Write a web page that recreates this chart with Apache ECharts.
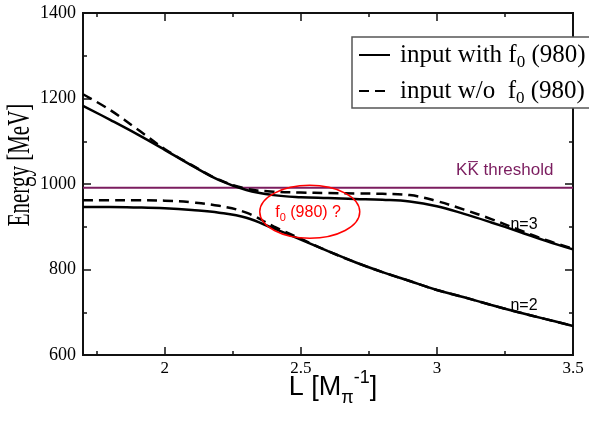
<!DOCTYPE html>
<html>
<head>
<meta charset="utf-8">
<script src="https://cdn.jsdelivr.net/npm/echarts@6/dist/echarts.min.js"></script>
<style>
  html, body { margin: 0; padding: 0; background: #fff; }
  #chart { width: 589px; height: 425px; }
</style>
</head>
<body>
<div id="chart"></div>
<script>
// box size L in units of 1/M_pi
const L = [1.7, 1.8, 1.9, 2.0, 2.1, 2.2, 2.3, 2.4, 2.5, 2.6, 2.7, 2.8, 2.9, 3.0, 3.1, 3.2, 3.3, 3.4, 3.5];

// energy levels [MeV], input with f0(980)
const n3With = [1183, 1150, 1116, 1080, 1043, 1009, 986, 974, 969, 967, 965, 963, 959, 948, 930, 910, 889, 867, 847];
const n2With = [946, 946, 945, 943, 939, 933, 921, 896, 870, 843, 817, 794, 773, 752, 735, 717, 700, 684, 668];

// energy levels [MeV], input without f0(980)
const n3Without = [1210, 1173, 1128, 1082, 1044, 1010, 989, 982, 980, 979, 978, 977, 974, 960, 940, 918, 893, 869, 849];
const n2Without = [962, 962, 962, 961, 957, 949, 933, 901, 872, 843, 817, 794, 773, 752, 735, 717, 700, 684, 668];

// KKbar threshold
const kkThreshold = 991;
const xLimits = [1.7, 3.5];

const xMajor = [2, 2.5, 3, 3.5];
const xMinor = [1.75, 2.25, 2.75, 3.25];

const NAME_WITH = 'input with f0 (980)';
const NAME_WITHOUT = 'input w/o  f0 (980)';

function pairs(xs, ys) {
  return xs.map((x, i) => [x, ys[i]]);
}

const axisLine = { show: true, lineStyle: { color: '#111', width: 2 } };

function xAxisOf(position, ticks, len, withLabel) {
  return {
    type: 'value',
    position: position,
    min: xLimits[0],
    max: xLimits[1],
    axisLine: axisLine,
    axisTick: { show: true, inside: true, length: len, customValues: ticks, lineStyle: { color: '#111', width: 1.5 } },
    axisLabel: withLabel
      ? { show: true, customValues: ticks, color: '#000', fontFamily: 'Liberation Serif', fontSize: 17, margin: 5 }
      : { show: false },
    splitLine: { show: false }
  };
}

function yAxisOf(position, withLabel) {
  return {
    type: 'value',
    position: position,
    min: 600,
    max: 1400,
    interval: 200,
    axisLine: axisLine,
    axisTick: { show: true, inside: true, length: 8, lineStyle: { color: '#111', width: 1.5 } },
    minorTick: { show: true, splitNumber: 2, length: 4, lineStyle: { color: '#111', width: 1.5 } },
    axisLabel: withLabel
      ? { show: true, color: '#000', fontFamily: 'Liberation Serif', fontSize: 18, margin: 7, formatter: v => String(v) }
      : { show: false },
    splitLine: { show: false }
  };
}

const xAxes = [
  xAxisOf('bottom', xMajor, 8, true),
  xAxisOf('bottom', xMinor, 4, false),
  xAxisOf('top', xMajor, 8, false),
  xAxisOf('top', xMinor, 4, false)
];
xAxes[0].name = 'L [M{sub|π}{sup|-1}]';
xAxes[0].nameLocation = 'middle';
xAxes[0].nameGap = 14;
xAxes[0].nameMoveOverlap = false;
xAxes[0].nameTextStyle = {
  color: '#000',
  fontFamily: 'Liberation Sans',
  fontSize: 27,
  lineHeight: 38,
  padding: [0, 0, 0, 10],
  rich: {
    sub: { fontFamily: 'Liberation Sans', fontSize: 18, color: '#000', verticalAlign: 'bottom' },
    sup: { fontFamily: 'Liberation Sans', fontSize: 18, color: '#000', verticalAlign: 'top' }
  }
};

const yAxes = [yAxisOf('left', true), yAxisOf('right', false)];

function curve(name, ys, dashed) {
  return {
    name: name,
    type: 'line',
    data: pairs(L, ys),
    smooth: 0.4,
    symbol: 'none',
    showSymbol: false,
    silent: true,
    z: 3,
    itemStyle: { color: '#000' },
    lineStyle: { color: '#000', width: 2.5, type: dashed ? [10, 6] : 'solid' }
  };
}

const chart = echarts.init(document.getElementById('chart'), null, { renderer: 'canvas' });

chart.setOption({
  backgroundColor: '#fff',
  animation: false,
  grid: { left: 83, right: 16, top: 13, bottom: 70, containLabel: false, outerBoundsMode: 'none' },
  xAxis: xAxes,
  yAxis: yAxes,
  legend: {
    data: [NAME_WITH, NAME_WITHOUT],
    orient: 'vertical',
    left: 352,
    top: 37,
    padding: [2, 12, 1, 6],
    itemGap: 4,
    itemWidth: 31,
    itemHeight: 14,
    backgroundColor: '#fff',
    borderColor: '#555',
    borderWidth: 1.5,
    borderRadius: 0,
    z: 10,
    // hide the symbol drawn in the middle of the line icon
    itemStyle: { color: 'rgba(0,0,0,0)', borderWidth: 0, opacity: 0 },
    lineStyle: { width: 2 },
    formatter: name => name.replace('f0', 'f{sub|0}'),
    textStyle: {
      color: '#000',
      fontFamily: 'Liberation Serif',
      fontSize: 25,
      lineHeight: 32,
      padding: [0, 0, 0, 5],
      rich: {
        sub: { fontFamily: 'Liberation Serif', fontSize: 17, color: '#000', verticalAlign: 'bottom' }
      }
    }
  },
  series: [
    {
      name: 'threshold',
      type: 'line',
      data: pairs(xLimits, [kkThreshold, kkThreshold]),
      symbol: 'none',
      silent: true,
      z: 2,
      lineStyle: { color: '#7b1d5f', width: 2 }
    },
    curve(NAME_WITHOUT, n3Without, true),
    curve(NAME_WITHOUT, n2Without, true),
    curve(NAME_WITH, n3With, false),
    curve(NAME_WITH, n2With, false)
  ]
});

// annotations placed in data coordinates
function px(x, y) {
  return chart.convertToPixel({ gridIndex: 0 }, [x, y]);
}
const pTh = px(3.428, 1033);
const pEll = px(2.533, 935);
const pF0 = px(2.527, 932);
const pN3 = px(3.27, 904);
const pN2 = px(3.27, 715);
const pYName = px(1.7, 1000);

chart.setOption({
  graphic: [
    {
      // y axis title, stretched like the original figure
      type: 'text', x: pYName[0] - 62.5, y: pYName[1] - 19, rotation: Math.PI / 2, scaleY: 1.5, z: 5,
      style: { text: 'Energy [MeV]', fill: '#000', font: '21px "Liberation Serif"', align: 'center', verticalAlign: 'middle' }
    },
    {
      type: 'text', x: pTh[0], y: pTh[1], z: 5,
      style: { text: 'KK\u0305 threshold', fill: '#7b1d5f', font: '17px "Liberation Sans"', align: 'right', verticalAlign: 'middle' }
    },
    {
      type: 'ellipse', z: 5,
      shape: { cx: pEll[0], cy: pEll[1], rx: 50, ry: 26.5 },
      style: { fill: 'none', stroke: '#f00', lineWidth: 1.5 }
    },
    {
      type: 'text', x: pF0[0], y: pF0[1], z: 5,
      style: {
        text: 'f{sub|0} (980) ?', fill: '#f00', font: '16px "Liberation Sans"', align: 'center', verticalAlign: 'middle',
        rich: { sub: { fill: '#f00', font: '11px "Liberation Sans"', verticalAlign: 'bottom', padding: [10, 0, 0, 0] } }
      }
    },
    {
      type: 'text', x: pN3[0], y: pN3[1], z: 5,
      style: { text: 'n=3', fill: '#000', font: '16px "Liberation Sans"', align: 'left', verticalAlign: 'middle' }
    },
    {
      type: 'text', x: pN2[0], y: pN2[1], z: 5,
      style: { text: 'n=2', fill: '#000', font: '16px "Liberation Sans"', align: 'left', verticalAlign: 'middle' }
    }
  ]
});
</script>
</body>
</html>
